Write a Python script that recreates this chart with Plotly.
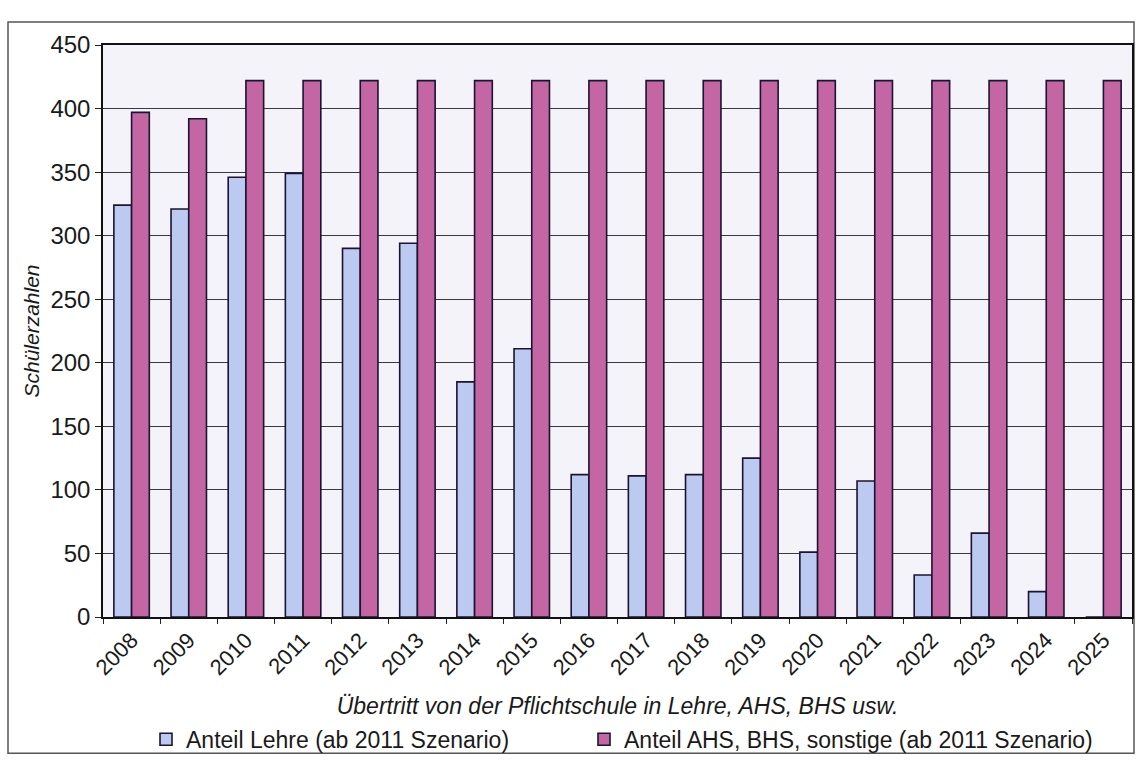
import plotly.graph_objects as go

# Schülerzahlen beim Übertritt von der Pflichtschule, 2008–2025
jahre = [str(j) for j in range(2008, 2026)]
anteil_lehre = [324, 321, 346, 349, 290, 294, 185, 211, 112, 111, 112, 125,
                51, 107, 33, 66, 20, 0]
anteil_ahs_bhs = [397, 392, 422, 422, 422, 422, 422, 422, 422, 422, 422, 422,
                  422, 422, 422, 422, 422, 422]

y_ticks = list(range(0, 451, 50))

FONT = "Liberation Sans, Arial, sans-serif"
OUTLINE = dict(color="#1b1430", width=1.6)

fig = go.Figure()
fig.add_trace(go.Bar(
    x=jahre, y=anteil_lehre, name="Anteil Lehre (ab 2011 Szenario)",
    marker=dict(color="#bccaf1", line=OUTLINE), legend="legend",
))
fig.add_trace(go.Bar(
    x=jahre, y=anteil_ahs_bhs, name="Anteil AHS, BHS, sonstige (ab 2011 Szenario)",
    marker=dict(color="#c466a4", line=OUTLINE), legend="legend2",
))

# plot area spans x 103..1132, y 45..620 in a 1138x767 page
W, H = 1138, 767
L, R, T, B = 103, 1132, 45, 620
pw, ph = R - L, B - T

def px_x(v):
    return (v - L) / pw

def px_y(v):
    return (B - v) / ph

legend_style = dict(
    orientation="h", xanchor="left", yanchor="middle",
    font=dict(size=23), bgcolor="rgba(0,0,0,0)", itemwidth=30,
)

fig.update_layout(
    width=W, height=H,
    margin=dict(l=L, r=W - R, t=T, b=H - B, pad=0),
    paper_bgcolor="white",
    plot_bgcolor="#f4f3f9",
    barmode="group",
    bargap=0.38,
    bargroupgap=0.0,
    font=dict(family=FONT, size=22, color="#1a1a1a"),
    showlegend=True,
    legend=dict(x=px_x(146), y=px_y(743), **legend_style),
    legend2=dict(x=px_x(584), y=px_y(743), **legend_style),
    shapes=[
        dict(type="rect", xref="paper", yref="paper",
             x0=px_x(8), x1=px_x(1134), y0=px_y(757), y1=px_y(22),
             line=dict(color="#555", width=1.5), fillcolor="rgba(0,0,0,0)",
             layer="below"),
    ],
)

fig.update_xaxes(
    type="category",
    automargin=False,
    tickson="boundaries",
    ticks="outside", ticklen=5, tickcolor="#222",
    tickangle=-45,
    tickfont=dict(size=22),
    showline=True, linecolor="#111", linewidth=1.5, mirror=True,
    showgrid=False,
    title=dict(text="<i>Übertritt von der Pflichtschule in Lehre, AHS, BHS usw.</i>",
               font=dict(size=23, family=FONT), standoff=19),
)
fig.update_yaxes(
    range=[0, 450], tickvals=y_ticks,
    automargin=False,
    ticks="outside", ticklen=6, tickcolor="#222",
    tickfont=dict(size=24),
    showline=True, linecolor="#111", linewidth=1.5, mirror=True,
    showgrid=True, gridcolor="#3a3a3a", gridwidth=1,
    zeroline=False,
    title=dict(text="<i>Schülerzahlen</i>", font=dict(size=21, family=FONT), standoff=5),
)

fig.write_html("out.html")
